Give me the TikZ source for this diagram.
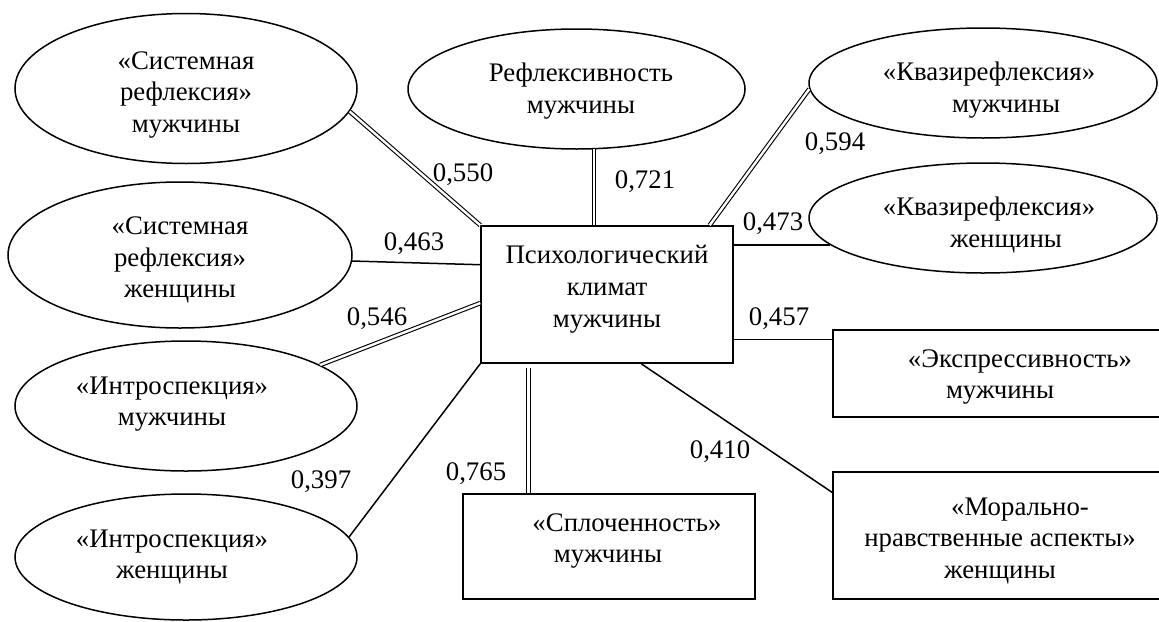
\documentclass[tikz,border=0pt]{standalone}
\usepackage{fontspec}
\setmainfont{Liberation Serif}
\usetikzlibrary{shapes.geometric,calc}
\begin{document}
\begin{tikzpicture}[x=0.5pt,y=-0.5pt,
  font=\fontsize{13.4}{15.6}\selectfont,
  shp/.style={draw,line width=0.75pt,inner sep=0pt},
  ell/.style={shp,ellipse},
  rect/.style={shp,rectangle},
  txt/.style={align=center,inner sep=0pt},
  num/.style={inner sep=0pt},
  sgl/.style={line width=0.75pt},
  dbl/.style={double,double distance=1.2pt,line width=0.55pt}]
\clip (0,0) rectangle (1159,621);
\fill[white] (0,0) rectangle (1159,621);

% shapes
\node[ell,minimum width=171pt,minimum height=75pt] (e1) at (186,88.5) {};
\node[ell,minimum width=172pt,minimum height=73pt] (e2) at (180,255) {};
\node[ell,minimum width=168.5pt,minimum height=60pt] (e3) at (576.5,89) {};
\node[ell,minimum width=174pt,minimum height=55pt] (e4) at (983,83) {};
\node[ell,minimum width=174pt,minimum height=55pt] (e5) at (983,218) {};
\node[ell,minimum width=171pt,minimum height=65pt] (e6) at (186,406) {};
\node[ell,minimum width=171pt,minimum height=63pt] (e7) at (186,557) {};
\node[rect,minimum width=126pt,minimum height=68.5pt] (box) at (607,294.5) {};
\node[rect,minimum width=166pt,minimum height=43.5pt] (r1) at (999,373.5) {};
\node[rect,minimum width=166pt,minimum height=63.5pt] (r2) at (999,535.5) {};
\node[rect,minimum width=146pt,minimum height=52.5pt] (r3) at (609,546.5) {};

% texts
\node[txt] (t1) at (186,95) {«Системная\\рефлексия»\\мужчины};
\node[txt] (t2) at (180,260) {«Системная\\рефлексия»\\женщины};
\node[txt] (t3) at (581,91) {Рефлексивность\\мужчины};
\node[txt] (t4) at (989,90) {«Квазирефлексия»\\\hspace*{17pt}мужчины};
\node[txt] (t5) at (989,225) {«Квазирефлексия»\\\hspace*{17pt}женщины};
\node[txt] (t6) at (172,404) {«Интроспекция»\\мужчины};
\node[txt] (t7) at (172,557) {«Интроспекция»\\женщины};
\node[txt,font=\fontsize{13.4}{16}\selectfont] (tb) at (607,289) {Психологический\\климат\\мужчины};
\node[txt] (tr1) at (1000,377) {\hspace*{20pt}«Экспрессивность»\\мужчины};
\node[txt] (tr2) at (1000,541) {\hspace*{20pt}«Морально-\\нравственные аспекты»\\женщины};
\node[txt] (tr3) at (608,541) {\hspace*{19pt}«Сплоченность»\\мужчины};

% connection points
\coordinate (pb2) at ($(box.north west)!0.285!(box.south west)$);
\coordinate (pb4) at ($(box.north west)!0.905!(box.north east)$);
\coordinate (pb6) at ($(box.north west)!0.562!(box.south west)$);
\coordinate (pb7) at ($(box.south west)!0.635!(box.south east)$);
\coordinate (pb8) at ($(box.south west)!0.19!(box.south east)$);
\coordinate (pr1) at ($(r1.north west)!0.115!(r1.south west)$);
\coordinate (pr2) at ($(r2.north west)!0.165!(r2.south west)$);

% connectors
\draw[dbl] (e1.-8.6) -- (box.north west);
\draw[sgl] (e2.-2.7) -- (pb2);
\draw[dbl] (e3.-74.5) -- (e3.-74.5 |- box.north);
\draw[dbl] (e4.182.7) -- (pb4);
\draw[sgl] (box.east |- e5.190.6) -- (e5.190.6);
\draw[sgl] (box.east |- pr1) -- (pr1);
\draw[sgl] (pb7) -- (pr2);
\draw[dbl,shorten <=2pt] (pb8) -- (pb8 |- r3.north);
\draw[dbl] (e6.17) -- (pb6);
\draw[sgl] (e7.7.7) -- (box.south west);

% labels
\node[num] (n1) at (463,175) {0,550};
\node[num] (n2) at (645,182) {0,721};
\node[num] (n3) at (835,144) {0,594};
\node[num] (n4) at (414,244) {0,463};
\node[num] (n5) at (773,224) {0,473};
\node[num] (n6) at (377,319) {0,546};
\node[num] (n7) at (779,319) {0,457};
\node[num] (n8) at (321,482) {0,397};
\node[num] (n9) at (476,474) {0,765};
\node[num] (n10) at (720,452) {0,410};
\end{tikzpicture}
\end{document}
